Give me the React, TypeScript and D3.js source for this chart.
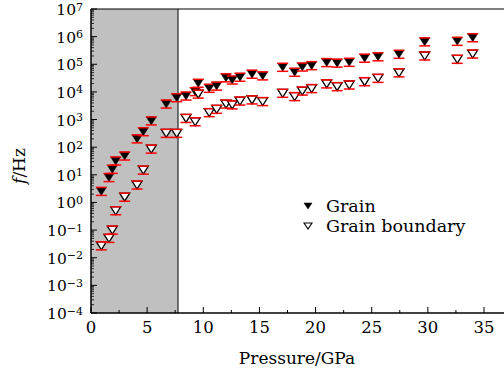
import React from "react";
import * as d3 from "d3";

const pressure = [0.92, 1.6, 1.9, 2.2, 3.0, 4.1, 4.66, 5.37, 6.7, 7.63, 8.46, 9.28, 9.55, 10.53, 11.19, 12.02, 12.58, 13.27, 14.34, 15.29, 17.07, 18.14, 18.82, 19.65, 20.99, 21.92, 23.0, 24.37, 25.56, 27.43, 29.72, 32.62, 33.99];
const grainLog = [0.40, 0.90, 1.20, 1.50, 1.68, 2.30, 2.56, 2.95, 3.56, 3.79, 3.85, 4.01, 4.31, 4.13, 4.21, 4.51, 4.43, 4.53, 4.64, 4.58, 4.89, 4.71, 4.90, 4.95, 5.06, 5.04, 5.07, 5.22, 5.27, 5.36, 5.81, 5.83, 5.96];
const boundaryLog = [-1.57, -1.30, -1.00, -0.30, 0.19, 0.63, 1.17, 1.93, 2.50, 2.50, 3.04, 2.92, 3.92, 3.25, 3.37, 3.56, 3.53, 3.67, 3.71, 3.65, 3.95, 3.83, 4.03, 4.12, 4.29, 4.19, 4.25, 4.37, 4.49, 4.69, 5.30, 5.18, 5.37];
const errDecades = 0.145;
const xTicks = [0, 5, 10, 15, 20, 25, 30, 35];
const yExponents = [-4, -3, -2, -1, 0, 1, 2, 3, 4, 5, 6, 7];
const shadedUntil = 7.75;
const seriesNames = ["Grain", "Grain boundary"];

const W = 504, H = 374;
const left = 91, right = 504, top = 9, bottom = 313;
const FONT = "'DejaVu Serif', 'Liberation Serif', serif";

export default function App() {
  const x = d3.scaleLinear().domain([0, 35]).range([left, 484]);
  const y = d3.scaleLog().domain([1e-4, 1e7]).range([bottom, top]);
  const mw = 10, mh = 8;
  const tri = (cx: number, cy: number, w: number, h: number) =>
    `M${cx - w / 2},${cy - h / 2}L${cx + w / 2},${cy - h / 2}L${cx},${cy + h / 2}Z`;

  const minorX: number[] = d3.range(0, 37, 2.5).filter((v) => v % 5 !== 0);
  const minorY: number[] = [];
  for (let e = -4; e < 7; e++) for (let k = 2; k <= 9; k++) minorY.push(k * Math.pow(10, e));

  const series = [
    { vals: grainLog, filled: true },
    { vals: boundaryLog, filled: false },
  ];

  return (
    <svg width={W} height={H} style={{ position: "absolute", left: 0, top: 0, background: "#fff" }}>
      <rect x={x(0)} y={top} width={x(shadedUntil) - x(0)} height={bottom - top} fill="#c0c0c0" />
      <line x1={x(shadedUntil)} x2={x(shadedUntil)} y1={top} y2={bottom} stroke="#000" strokeWidth={1} />
      {/* axes */}
      <line x1={left} x2={right} y1={top} y2={top} stroke="#000" strokeWidth={1.2} />
      <line x1={left} x2={right} y1={bottom} y2={bottom} stroke="#000" strokeWidth={1.5} />
      <line x1={left} x2={left} y1={top} y2={bottom} stroke="#000" strokeWidth={1.5} />
      {xTicks.map((t) => (
        <g key={"xt" + t}>
          <line x1={x(t)} x2={x(t)} y1={bottom} y2={bottom - 6} stroke="#000" strokeWidth={1} />
          <text x={x(t)} y={bottom + 20} textAnchor="middle" fontFamily={FONT} fontSize={16.5}>{t}</text>
        </g>
      ))}
      {minorX.map((t) => (
        <line key={"xm" + t} x1={x(t)} x2={x(t)} y1={bottom} y2={bottom - 3} stroke="#000" strokeWidth={1} />
      ))}
      {yExponents.map((e) => (
        <g key={"yt" + e}>
          <line x1={left} x2={left + 6} y1={y(Math.pow(10, e))} y2={y(Math.pow(10, e))} stroke="#000" strokeWidth={1} />
          <text x={left - 8} y={y(Math.pow(10, e)) + 6} textAnchor="end" fontFamily={FONT} fontSize={15.5}>
            10<tspan dy={-4.5} fontSize={11}>{e < 0 ? "\u2212" + Math.abs(e) : e}</tspan>
          </text>
        </g>
      ))}
      {minorY.map((v, i) => (
        <line key={"ym" + i} x1={left} x2={left + 3} y1={y(v)} y2={y(v)} stroke="#000" strokeWidth={0.8} />
      ))}
      {/* data */}
      {series.map((s, si) => (
        <g key={"s" + si}>
          {s.vals.map((lv, i) => {
            const cx = x(pressure[i]);
            const cy = y(Math.pow(10, lv));
            const y1 = y(Math.pow(10, lv + errDecades));
            const y2 = y(Math.pow(10, lv - errDecades));
            return (
              <g key={i}>
                <line x1={cx} x2={cx} y1={y1} y2={y2} stroke="#ff0000" strokeWidth={1} />
                <path d={tri(cx, cy, mw, mh)} fill={s.filled ? "#000" : "#fff"} stroke="#000" strokeWidth={s.filled ? 0.5 : 1.3} />
                <line x1={cx - 5.5} x2={cx + 5.5} y1={y1} y2={y1} stroke="#ff0000" strokeWidth={1.5} />
                <line x1={cx - 5.5} x2={cx + 5.5} y1={y2} y2={y2} stroke="#ff0000" strokeWidth={1.5} />
              </g>
            );
          })}
        </g>
      ))}
      {/* legend */}
      {seriesNames.map((n, i) => (
        <g key={"lg" + i}>
          <path d={tri(308, 206 + i * 20, 8, 6)} fill={i === 0 ? "#000" : "#fff"} stroke="#000" strokeWidth={i === 0 ? 0.5 : 1.1} />
          <text x={326} y={212 + i * 20} fontFamily={FONT} fontSize={17.5}>{n}</text>
        </g>
      ))}
      <text x={297} y={364} textAnchor="middle" fontFamily={FONT} fontSize={17}>Pressure/GPa</text>
      <text transform={`translate(25,166) rotate(-90)`} textAnchor="middle" fontFamily={FONT} fontSize={17}>
        <tspan fontStyle="italic">f</tspan>/Hz
      </text>
    </svg>
  );
}
